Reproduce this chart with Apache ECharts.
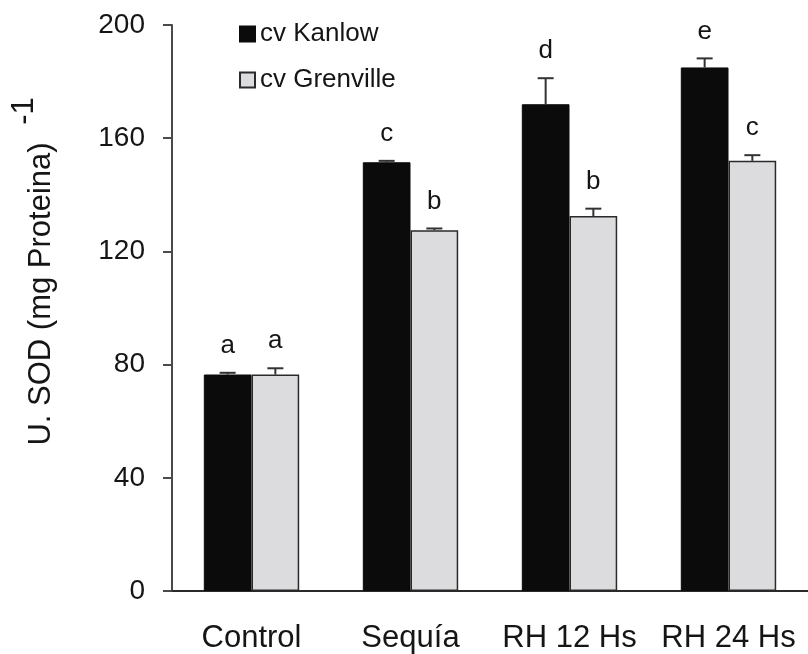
<!DOCTYPE html>
<html>
<head>
<meta charset="utf-8">
<script src="https://cdn.jsdelivr.net/npm/echarts@6/dist/echarts.min.js"></script>
<style>
  html, body { margin: 0; padding: 0; background: #fff; }
  #chart { width: 808px; height: 654px; }
</style>
</head>
<body>
<div id="chart"></div>
<script>
// SOD activity per treatment for two cultivars, mean ± error with significance letters
var categories = ['Control', 'Sequía', 'RH 12 Hs', 'RH 24 Hs'];
var kanlow = [76.5, 151.5, 172, 185];
var grenville = [76.5, 127.5, 132.5, 152];
var kanlowErr = [0.6, 0.5, 9.2, 3.2];
var grenvilleErr = [2.2, 0.6, 2.6, 2.0];
var kanlowLetters = ['a', 'c', 'd', 'e'];
var grenvilleLetters = ['a', 'b', 'b', 'c'];
var yTicks = [0, 40, 80, 120, 160, 200];

var FONT = '"Liberation Sans", Arial, Helvetica, sans-serif';
var TEXT = '#151515';
var AXIS = '#4a4a4a';
var CAT_GAP = 0.40; // fraction of each category left empty

var chart = echarts.init(document.getElementById('chart'));

// Error bar + letter for one cultivar; side = -1 (left bar) or +1 (right bar)
function errorSeries(name, values, errs, letters, side) {
  return {
    name: name + ' err',
    type: 'custom',
    z: 5,
    silent: true,
    data: values.map(function (v, i) { return [i, v, errs[i], letters[i]]; }),
    renderItem: function (params, api) {
      var idx = api.value(0);
      var v = api.value(1);
      var e = api.value(2);
      var band = api.size([1, 0])[0];
      var barW = band * (1 - CAT_GAP) / 2;
      var base = api.coord([idx, v]);
      var top = api.coord([idx, v + e]);
      var x = base[0] + side * barW / 2;
      var capHalf = 8;
      return {
        type: 'group',
        children: [
          { type: 'line', shape: { x1: x, y1: base[1], x2: x, y2: top[1] },
            style: { stroke: '#333', lineWidth: 2 } },
          { type: 'line', shape: { x1: x - capHalf, y1: top[1], x2: x + capHalf, y2: top[1] },
            style: { stroke: '#333', lineWidth: 2 } },
          { type: 'text', x: x, y: top[1] - 27,
            style: { text: letters[idx], fill: TEXT, font: '26px ' + FONT,
                     textAlign: 'center', textVerticalAlign: 'middle' } }
        ]
      };
    }
  };
}

var option = {
  animation: false,
  backgroundColor: '#ffffff',
  grid: { left: 172, right: 0, top: 25, bottom: 62, containLabel: false },
  legend: {
    orient: 'vertical',
    left: 234,
    top: 16,
    itemWidth: 15,
    itemHeight: 15,
    itemGap: 20,
    icon: 'rect',
    data: ['cv Kanlow', 'cv Grenville'],
    textStyle: { fontFamily: FONT, fontSize: 26, color: TEXT, padding: [0, 0, 0, 0] }
  },
  xAxis: {
    type: 'category',
    data: categories,
    axisLine: { show: true, lineStyle: { color: '#2a2a2a', width: 2 } },
    axisTick: { show: false },
    axisLabel: { interval: 0, fontFamily: FONT, fontSize: 31, color: TEXT, margin: 32 }
  },
  yAxis: {
    type: 'value',
    min: yTicks[0],
    max: yTicks[yTicks.length - 1],
    interval: 40,
    splitLine: { show: false },
    axisLine: { show: true, lineStyle: { color: AXIS, width: 2 } },
    axisTick: { show: true, inside: false, length: 9, lineStyle: { color: AXIS, width: 2 } },
    axisLabel: { fontFamily: FONT, fontSize: 28, color: TEXT, margin: 27 }
  },
  graphic: [
    {
      type: 'text',
      x: 41, y: 294,
      rotation: Math.PI / 2,
      style: { text: 'U. SOD (mg Proteina)', fill: TEXT, font: '31px ' + FONT,
               textAlign: 'center', textVerticalAlign: 'middle' }
    },
    {
      type: 'text',
      x: 24, y: 111,
      rotation: Math.PI / 2,
      style: { text: '-1', fill: TEXT, font: '31px ' + FONT,
               textAlign: 'center', textVerticalAlign: 'middle' }
    }
  ],
  series: [
    {
      name: 'cv Kanlow',
      type: 'bar',
      data: kanlow,
      barGap: '0%',
      barCategoryGap: (CAT_GAP * 100) + '%',
      itemStyle: { color: '#0b0b0b', borderColor: '#0b0b0b', borderWidth: 1 }
    },
    {
      name: 'cv Grenville',
      type: 'bar',
      data: grenville,
      barGap: '0%',
      barCategoryGap: (CAT_GAP * 100) + '%',
      itemStyle: { color: '#dcdcde', borderColor: '#2a2a2a', borderWidth: 1.5 }
    },
    errorSeries('cv Kanlow', kanlow, kanlowErr, kanlowLetters, -1),
    errorSeries('cv Grenville', grenville, grenvilleErr, grenvilleLetters, 1)
  ]
};

chart.setOption(option);
</script>
</body>
</html>
